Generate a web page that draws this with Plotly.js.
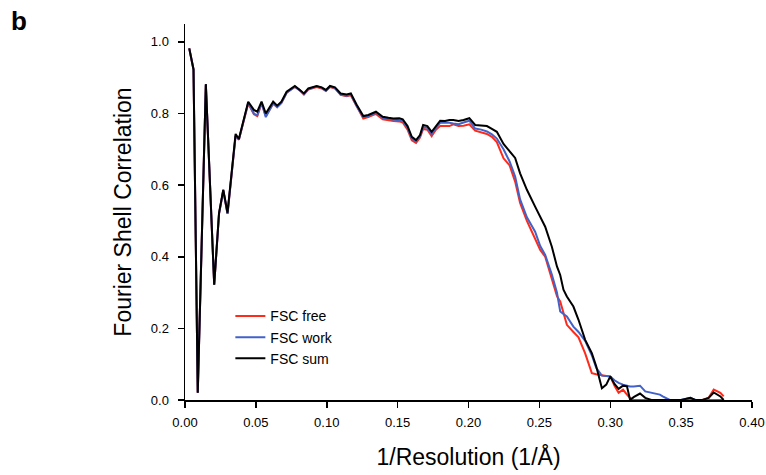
<!DOCTYPE html>
<html>
<head>
<meta charset="utf-8">
<script src="https://cdn.plot.ly/plotly-3.0.1.min.js"></script>
<style>html,body{margin:0;padding:0;background:#fff;}#chart{width:766px;height:475px;}</style>
</head>
<body>
<div id="chart"></div>
<script>
// 1/Resolution (1/Å) sample positions shared by the three curves
const resolution = [0.003,0.006,0.009,0.0147,0.0206,0.024,0.027,0.030,0.0357,0.038,0.0446,0.0486,0.051,0.054,0.057,0.0622,0.065,0.068,0.0717,0.0775,0.0806,0.0839,0.087,0.0929,0.0964,0.0994,0.1023,0.1058,0.1098,0.114,0.117,0.121,0.1258,0.1293,0.1347,0.1395,0.1435,0.147,0.1512,0.1536,0.157,0.160,0.163,0.1658,0.168,0.171,0.174,0.177,0.180,0.1835,0.1865,0.1893,0.193,0.1965,0.2006,0.2047,0.209,0.213,0.2165,0.220,0.2247,0.229,0.2329,0.2364,0.2412,0.247,0.2506,0.2541,0.2588,0.2624,0.2647,0.267,0.2694,0.274,0.2776,0.2823,0.287,0.2901,0.2941,0.2972,0.300,0.303,0.3059,0.309,0.3118,0.314,0.3165,0.3188,0.321,0.3247,0.329,0.335,0.337,0.342,0.350,0.3565,0.360,0.365,0.3694,0.373,0.3777,0.380];

const fscSum = [0.982,0.923,0.020,0.882,0.322,0.522,0.587,0.523,0.743,0.729,0.833,0.810,0.805,0.833,0.800,0.833,0.822,0.833,0.861,0.877,0.867,0.856,0.870,0.877,0.873,0.866,0.877,0.873,0.856,0.853,0.856,0.825,0.793,0.796,0.805,0.791,0.788,0.786,0.787,0.784,0.765,0.735,0.726,0.740,0.768,0.765,0.749,0.765,0.780,0.779,0.782,0.782,0.779,0.782,0.787,0.768,0.767,0.765,0.757,0.749,0.715,0.693,0.676,0.633,0.587,0.540,0.510,0.484,0.428,0.373,0.349,0.308,0.289,0.261,0.224,0.168,0.131,0.094,0.033,0.043,0.066,0.045,0.031,0.040,0.038,0.000,0.008,0.012,0.018,0.006,0.000,0.000,0.000,0.000,0.000,0.006,0.000,0.000,0.006,0.021,0.010,0.000];

const fscWork = [0.982,0.923,0.020,0.882,0.322,0.520,0.585,0.520,0.738,0.727,0.830,0.800,0.795,0.830,0.790,0.828,0.818,0.830,0.858,0.875,0.866,0.854,0.868,0.876,0.872,0.864,0.876,0.871,0.853,0.850,0.853,0.822,0.790,0.793,0.802,0.788,0.785,0.783,0.782,0.780,0.760,0.730,0.722,0.737,0.762,0.760,0.742,0.760,0.774,0.775,0.774,0.772,0.770,0.775,0.780,0.758,0.755,0.750,0.742,0.730,0.700,0.666,0.624,0.560,0.510,0.470,0.430,0.405,0.350,0.300,0.247,0.240,0.233,0.205,0.190,0.165,0.125,0.090,0.068,0.067,0.066,0.055,0.048,0.043,0.040,0.038,0.038,0.040,0.040,0.024,0.020,0.015,0.010,0.000,0.000,0.006,0.000,0.000,0.000,0.000,0.000,0.000];

const fscFree = [0.982,0.923,0.020,0.880,0.322,0.520,0.585,0.520,0.738,0.727,0.828,0.798,0.793,0.828,0.793,0.828,0.818,0.830,0.858,0.874,0.866,0.853,0.867,0.874,0.870,0.863,0.874,0.870,0.852,0.848,0.851,0.820,0.786,0.790,0.799,0.784,0.781,0.779,0.778,0.775,0.755,0.725,0.718,0.733,0.757,0.755,0.737,0.755,0.765,0.765,0.765,0.770,0.765,0.766,0.770,0.752,0.748,0.743,0.735,0.720,0.675,0.655,0.610,0.550,0.500,0.452,0.419,0.400,0.335,0.290,0.275,0.240,0.210,0.190,0.175,0.130,0.075,0.072,0.068,0.067,0.066,0.040,0.020,0.029,0.015,0.006,0.000,0.000,0.000,0.000,0.000,0.000,0.000,0.000,0.000,0.000,0.000,0.000,0.006,0.029,0.020,0.010];

const seriesNames = ["FSC free","FSC work","FSC sum"];
const seriesColors = ["#ff2a1a","#4262c8","#000000"];
const xTicks = [0,0.05,0.10,0.15,0.20,0.25,0.30,0.35,0.40];
const yTicks = [0,0.2,0.4,0.6,0.8,1.0];

const font = "Liberation Sans, Arial, Helvetica, sans-serif";
const ys = [fscFree, fscWork, fscSum];
const traces = ys.map((y,i) => ({
  x: resolution, y: y, type: "scatter", mode: "lines",
  name: seriesNames[i],
  line: {color: seriesColors[i], width: 2}
}));

const layout = {
  width: 766, height: 475,
  margin: {l: 185, r: 14, t: 24, b: 75},
  paper_bgcolor: "#fff", plot_bgcolor: "#fff",
  font: {family: font, color: "#000", size: 13},
  showlegend: true,
  legend: {x: 0.08, y: 0.265, xanchor: "left", yanchor: "top",
           bgcolor: "rgba(0,0,0,0)", font: {size: 14, family: font}},
  xaxis: {
    range: [0, 0.40], tickvals: xTicks, tickformat: ".2f",
    showline: true, linecolor: "#000", linewidth: 1.5,
    ticks: "outside", ticklen: 6, tickwidth: 1.5, tickcolor: "#000",
    showgrid: false, zeroline: false, ticklabelstandoff: 4,
    tickfont: {size: 13},
    title: {text: "1/Resolution (1/Å)", font: {size: 23}, standoff: 20}
  },
  yaxis: {
    range: [0, 1.05], tickvals: yTicks, tickformat: ".1f",
    showline: true, linecolor: "#000", linewidth: 1.5,
    ticks: "outside", ticklen: 6, tickwidth: 1.5, tickcolor: "#000",
    showgrid: false, zeroline: false, ticklabelstandoff: 6,
    tickfont: {size: 13},
    title: {text: "Fourier Shell Correlation", font: {size: 23}, standoff: 13}
  },
  annotations: [{
    text: "<b>b</b>", xref: "paper", yref: "paper",
    x: -0.311, y: 1.052, xanchor: "left", yanchor: "top",
    showarrow: false, font: {size: 26, family: font, color: "#000"}
  }]
};

Plotly.newPlot("chart", traces, layout, {displayModeBar: false, staticPlot: true});
</script>
</body>
</html>
